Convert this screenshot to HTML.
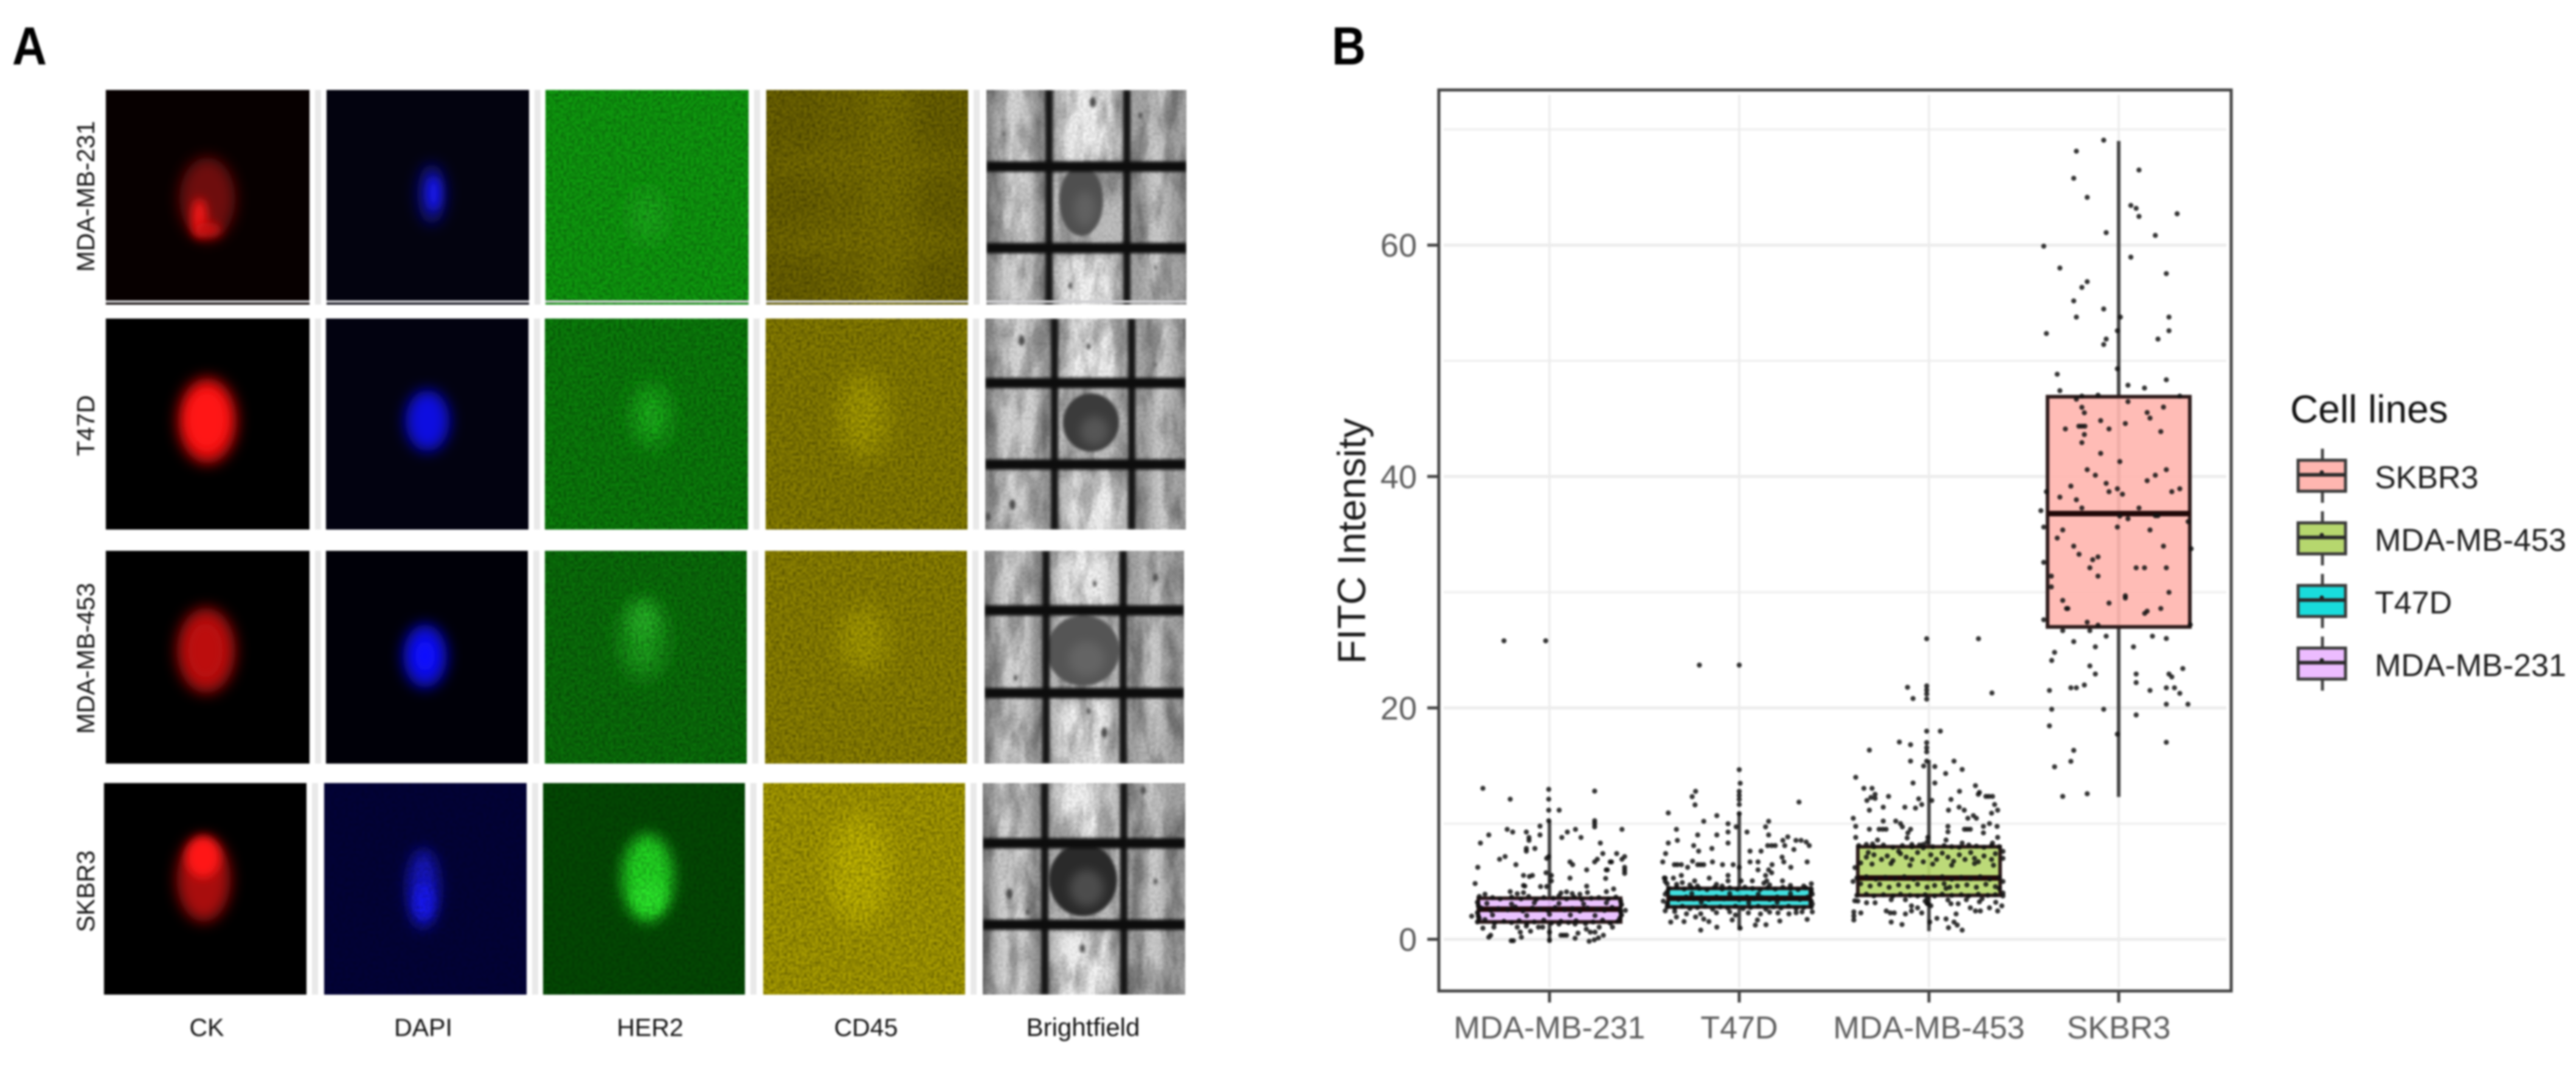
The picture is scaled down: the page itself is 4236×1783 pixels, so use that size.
<!DOCTYPE html>
<html lang="en">
<head>
<meta charset="utf-8">
<title>Cell line immunofluorescence and FITC intensity</title>
<style>
html,body{margin:0;padding:0;background:#fff;}
body{width:4236px;height:1783px;overflow:hidden;}
svg{display:block;position:absolute;left:0;top:0;}
text{font-family:"Liberation Sans",sans-serif;}
#soft{filter:blur(1.5px);}
</style>
</head>
<body>
<svg id="root" xmlns="http://www.w3.org/2000/svg" width="4236" height="1783" viewBox="0 0 4236 1783">
<defs id="defs">
<filter id="b2" x="-100%" y="-100%" width="300%" height="300%"><feGaussianBlur stdDeviation="2"/></filter>
<filter id="b4" x="-100%" y="-100%" width="300%" height="300%"><feGaussianBlur stdDeviation="4"/></filter>
<filter id="b8" x="-100%" y="-100%" width="300%" height="300%"><feGaussianBlur stdDeviation="8"/></filter>
<filter id="b12" x="-100%" y="-100%" width="300%" height="300%"><feGaussianBlur stdDeviation="12"/></filter>
<filter id="b18" x="-100%" y="-100%" width="300%" height="300%"><feGaussianBlur stdDeviation="18"/></filter>
<filter id="noise" x="0" y="0" width="100%" height="100%"><feTurbulence type="fractalNoise" baseFrequency="0.22" numOctaves="2" seed="4"/><feColorMatrix type="matrix" values="0 0 0 0 0  0 0 0 0 0  0 0 0 0 0  1.6 0 0 0 -0.55"/><feGaussianBlur stdDeviation="0.8"/></filter>
<filter id="mottle" x="0" y="0" width="100%" height="100%"><feTurbulence type="fractalNoise" baseFrequency="0.035 0.012" numOctaves="3" seed="9"/><feColorMatrix type="matrix" values="0 0 0 0 0  0 0 0 0 0  0 0 0 0 0  3 0 0 0 -1.2"/></filter>
</defs>
<rect x="0" y="0" width="4236" height="1783" fill="#ffffff"/>
<g id="soft">
<text x="20" y="106" font-size="88" font-weight="700" fill="#000" textLength="57" lengthAdjust="spacingAndGlyphs">A</text>
<text x="2190" y="106" font-size="88" font-weight="700" fill="#000" textLength="56" lengthAdjust="spacingAndGlyphs">B</text>
<g id="panelA"></g>
<text x="144" y="323" transform="rotate(-90 144 323)" text-anchor="middle" font-size="41" fill="#111" dominant-baseline="middle">MDA-MB-231</text>
<text x="144" y="700" transform="rotate(-90 144 700)" text-anchor="middle" font-size="41" fill="#111" dominant-baseline="middle">T47D</text>
<text x="144" y="1083" transform="rotate(-90 144 1083)" text-anchor="middle" font-size="41" fill="#111" dominant-baseline="middle">MDA-MB-453</text>
<text x="144" y="1466" transform="rotate(-90 144 1466)" text-anchor="middle" font-size="41" fill="#111" dominant-baseline="middle">SKBR3</text>
<text x="340" y="1704" text-anchor="middle" font-size="41" fill="#111">CK</text>
<text x="696" y="1704" text-anchor="middle" font-size="41" fill="#111">DAPI</text>
<text x="1069" y="1704" text-anchor="middle" font-size="41" fill="#111">HER2</text>
<text x="1424" y="1704" text-anchor="middle" font-size="41" fill="#111">CD45</text>
<text x="1781" y="1704" text-anchor="middle" font-size="42" fill="#111">Brightfield</text>
<g id="chart"></g>
<text x="2245" y="890" transform="rotate(-90 2245 890)" text-anchor="middle" font-size="65" fill="#1a1a1a">FITC Intensity</text>
<g id="legend">
<text x="3766" y="695" font-size="64" fill="#111">Cell lines</text>
</g>
</g>
</svg>
<script>
/* ---------- chart data ---------- */
const categories = ['MDA-MB-231', 'T47D', 'MDA-MB-453', 'SKBR3'];
const whiskerLow = [-0.3, 0.8, 0.7, 12.3];
const quartile1 = [1.5, 2.8, 3.8, 27.0];
const medians = [2.6, 3.55, 5.3, 36.8];
const quartile3 = [3.55, 4.4, 8.0, 46.9];
const whiskerHigh = [10.3, 11.0, 15.5, 69.0];
const yTickValues = [0, 20, 40, 60];
const yMinorValues = [10, 30, 50, 70];
const legendOrder = ['SKBR3', 'MDA-MB-453', 'T47D', 'MDA-MB-231'];

/* each point: [FITC value, horizontal jitter in category widths] */
const pointsMDA231 = [
[25.8,-.24],[25.8,-.02],[13.05,-.351],[12.96,-.004],[12.81,.238],[12.11,-.207],[12.11,-.004],[11.16,-.004],[11.16,.051],[10.25,-.004],[10.25,.238],[10,.238],[9.72,.238],[9.78,-.05],[9.5,-.223],[9.27,-.194],[9.5,.382],[9.5,.137],[9.27,.094],[9.27,-.122],[9.02,-.32],[9.02,-.05],[8.8,-.108],[8.55,-.108],[8.8,.065],[8.8,.166],[8.32,-.364],[8.32,.268],[7.85,-.122],[7.62,-.122],[7.85,-.077],[7.41,.281],[7.41,.354],[7.15,-.234],[6.92,-.263],[7.15,.396],[6.92,.382],[7.15,-.004],[7,-.015],[6.92,.252],[6.69,.238],[6.69,.108],[6.45,.122],[6.69,.327],[6.69,.32],[6.45,-.177],[6.22,-.378],[6.22,.396],[5.96,.396],[5.7,.396],[6,.196],[6,.299],[6,.305],[5.52,-.137],[5.43,-.106],[5.52,-.09],[5.75,-.018],[5.52,.01],[5.29,.108],[5.26,.296],[4.82,-.392],[4.65,-.137],[4.6,-.13],[5.05,.01],[4.59,.196],[4.35,.338],[4.12,.3],[4.56,-.047],[4.56,-.015],[4.12,-.207],[3.94,-.17],[4.03,-.137],[4,.06],[4.1,.09],[3.95,.12],[3.9,.16],[4.05,.2],
[3.7,-.37],[3.9,-.34],[3.6,-.3],[3.5,-.26],[3.65,-.2],[3.5,-.15],[3.7,-.11],[3.45,-.07],[3.6,-.03],[3.55,.02],[3.75,.05],[3.5,.09],[3.65,.13],[3.45,.17],[3.55,.22],[3.6,.26],[3.5,.31],[3.65,.35],
[2.7,-.36],[2.5,-.31],[2.65,-.27],[2.55,-.22],[2.8,-.18],[2.45,-.14],[2.7,-.09],[2.6,-.05],[2.5,-.01],[2.75,.03],[2.55,.08],[2.65,.12],[2.45,.16],[2.7,.2],[2.6,.25],[2.5,.29],[2.75,.33],[2.6,.37],
[1.5,-.38],[1.7,-.34],[1.4,-.29],[1.55,-.24],[1.45,-.2],[1.6,-.16],[1.35,-.12],[1.5,-.08],[1.65,-.03],[1.4,.01],[1.55,.06],[1.45,.1],[1.6,.14],[1.35,.19],[1.5,.23],[1.65,.28],[1.4,.32],[1.55,.36],
[3.2,-.38],[2.9,-.375],[2.3,-.38],[2,-.375],[1.8,-.37],[3.3,.375],[3,.38],[2.4,.375],[2.1,.38],[1.8,.37],[2.5,.4],[2,-.41],
[3.1,-.33],[3.05,-.2],[3.15,-.08],[3.1,.05],[3.05,.18],[3.15,.3],[2.1,-.3],[2.05,-.12],[2.15,0],[2.1,.11],[2.05,.24],
[.96,-.351],[1.05,-.293],[.18,-.32],[.35,-.31],[-.12,-.202],[-.12,-.19],[.62,-.154],[.18,-.148],[1.14,-.122],[.7,-.1],[1.05,-.17],[1.05,-.058],[1.05,-.036],[.62,0],[-.08,0],[.35,.06],[.35,.075],[.35,.09],[.53,.15],[.09,.135],[.88,.194],[.62,.215],[.62,.24],[1.05,.262],[-.17,.209],[-.05,.236],[.12,.258],[.35,.284],[1.05,.332],[1.32,.05],[1.32,.135]
];
const pointsT47D = [
[23.7,-.21],[23.7,0],[14.66,0],[13.49,.005],[12.79,0],[12.44,0],[12.09,0],[11.65,0],[10.86,0],[12.79,-.23],[12.33,-.248],[11.62,-.233],[11.86,.315],[10.92,-.374],[10.69,-.118],[10.2,-.187],[10.2,.155],[9.72,.139],[9.99,-.059],[9.72,-.016],[9.5,-.331],[9.27,-.059],[9.27,.041],[9.02,-.219],[9.02,-.118],[9.02,.155],[8.55,-.326],[8.32,-.374],[8.32,-.059],[8.85,.256],[8.55,.23],[8.1,.24],[8.55,.299],[8.55,.326],[8.41,.353],[8.1,.369],[8.1,-.24],[7.62,-.214],[7.85,-.144],[7.62,.057],[7.62,.115],[8.1,.15],[8.1,.171],[8.1,.19],[7.76,.288],[7.41,-.388],[6.69,-.403],[6.75,-.246],[6.69,-.141],[7.1,.226],[6.69,.235],[6.69,.057],[6.69,.099],[6.69,.358],[6.45,-.342],[6.45,-.326],[6.45,-.305],[6.22,-.272],[6.45,-.219],[6.45,-.203],[6.45,-.187],[6.45,-.088],[6.45,-.032],[6.22,0],[6.45,.173],[6.22,.272],[6,.099],[6,.155],[5.75,.171],[5.52,-.305],[5.29,-.347],[5.29,-.39],[5.29,-.158],[5.52,-.059],[5.05,-.059],[5.52,.139],[5.05,.228],[5.05,.069],[5.05,-.235],[5.05,.145],[5.05,.01],[5.3,-.395],[5,-.39],[4.8,-.38],[4.75,-.33],[4.9,-.3],[4.7,-.26],[4.6,-.22],[4.75,-.12],[4.6,-.09],[4.7,.16],[4.85,.13],[4.65,.27],[4.8,.38],[4.6,.34],
[4.4,-.37],[4.5,-.33],[4.35,-.29],[4.45,-.25],[4.4,-.21],[4.3,-.17],[4.5,-.13],[4.35,-.09],[4.45,-.05],[4.35,-.01],[4.5,.03],[4.4,.07],[4.3,.11],[4.45,.15],[4.35,.19],[4.5,.23],[4.4,.27],[4.3,.31],[4.45,.35],[4.35,.38],
[3.6,-.36],[3.45,-.32],[3.65,-.28],[3.5,-.24],[3.6,-.2],[3.45,-.16],[3.65,-.12],[3.5,-.08],[3.6,-.04],[3.45,0],[3.65,.04],[3.5,.08],[3.6,.12],[3.45,.16],[3.65,.2],[3.5,.24],[3.6,.28],[3.45,.32],[3.65,.36],
[2.8,-.38],[2.7,-.34],[2.85,-.3],[2.65,-.26],[2.75,-.22],[2.85,-.18],[2.6,-.14],[2.8,-.1],[2.7,-.06],[2.85,-.02],[2.65,.02],[2.75,.06],[2.85,.1],[2.6,.14],[2.8,.18],[2.7,.22],[2.85,.26],[2.65,.3],[2.75,.34],[2.8,.38],
[4.1,-.38],[3.9,-.39],[3.3,-.4],[3.1,-.38],[4.1,.38],[3.9,.385],[3.3,.38],[3.05,.385],[3.95,-.25],[3.95,-.05],[3.9,.1],[3.95,.27],[3.2,-.2],[3.15,.05],[3.2,.2],
[2.46,-.39],[1.93,-.331],[1.49,-.361],[1.53,-.291],[2.2,-.278],[1.93,-.23],[2.2,-.203],[1.75,-.187],[1.53,-.16],[.79,-.203],[1.05,-.118],[2.37,-.05],[1.67,-.037],[2.1,-.02],[.97,.005],[2.28,.048],[1.67,.096],[1.23,.085],[2.19,.112],[1.26,.141],[1.58,.214],[2.28,.204],[2.2,.262],[1.72,.358],[2.37,.331],[2.37,.385],[2.3,-.12],[2.4,-.34],[2.3,.3],[2.35,.16]
];
const pointsMDA453 = [
[25.98,-.012],[25.98,.261],[21.78,-.113],[21.9,-.012],[21.55,-.012],[21.2,-.012],[20.76,-.012],[20.81,-.084],[21.29,.332],[17.99,-.012],[17.99,.06],[17.05,-.156],[17,-.012],[16.56,-.012],[16.2,-.012],[16.82,-.097],[16.35,-.314],[15.4,-.097],[15.4,-.012],[15.4,.132],[14.98,-.028],[14.93,.031],[14.68,.175],[14.33,.088],[14,-.386],[13.51,-.084],[13.51,.031],[13.28,.245],[13.05,-.343],[13.05,-.3],[12.79,.161],[12.7,.266],[12.53,.26],[12.53,-.284],[12.26,-.306],[12,-.327],[12.18,-.284],[12.35,-.213],[12.35,.3],[12.35,.316],[12.35,.335],[12.14,-.054],[12,.015],[12.09,.116],[11.65,-.038],[11.34,-.071],[11.42,-.241],[11.42,-.127],[11.16,-.314],[11.16,.103],[11.42,.159],[11.16,.186],[11.65,.346],[11.16,.362],[10.9,.33],[10.69,.234],[10.46,.205],[10.46,.25],[10.46,-.399],[10.22,-.241],[10.22,-.175],[10,-.15],[9.72,-.14],[9.76,-.386],[9.51,-.314],[9.51,-.263],[9.51,-.244],[9.51,-.226],[9.51,-.097],[9.2,-.111],[8.76,-.115],[9.76,.1],[9.29,.1],[9.51,.202],[9.51,.187],[9.51,.218],[10,.319],[9.76,.287],[9.2,.287],[9.76,.359],[8.81,-.386],[8.81,-.006],[8.81,.362],[8.58,.09],[8.58,-.271],[8.24,-.297],[8.32,.175],[8.32,.335],[8.4,-.01],[8.2,-.09],[8.2,-.03],
[8.1,-.37],[8.2,-.33],[8,-.29],[8.15,-.24],[7.95,-.19],[8.1,-.14],[8,-.09],[8.15,-.05],[8,.02],[8.1,.08],[8,.12],[7.95,.16],[8.15,.21],[8.05,.25],[7.95,.29],[8.1,.33],[8,.37],
[7.5,-.32],[7.3,-.29],[7.1,-.33],[6.9,-.25],[7.2,-.22],[6.8,-.19],[7.4,-.15],[7.1,-.12],[6.9,-.09],[7.5,-.06],[6.7,-.03],[7.3,.01],[6.9,.04],[7.45,.07],[7.1,.1],[6.75,.13],[7.3,.16],[6.9,.19],[7.5,.22],[6.7,.26],[7.2,.29],[6.9,.33],[7.4,.35],[6.6,-.36],[6.5,-.3],[6.55,-.2],[6.4,-.1],[6.5,.02],[6.4,.12],[6.55,.24],[6.4,.34],[7.9,-.03],[7.6,-.16],[7,.24],
[5.3,-.38],[5.4,-.33],[5.2,-.28],[5.35,-.23],[5.25,-.18],[5.4,-.13],[5.2,-.08],[5.35,-.03],[5.25,.02],[5.4,.07],[5.2,.12],[5.35,.17],[5.25,.22],[5.4,.27],[5.2,.32],[5.35,.37],
[4.8,-.36],[4.6,-.31],[4.75,-.26],[4.5,-.21],[4.7,-.16],[4.55,-.11],[4.75,-.06],[4.5,-.01],[4.65,.03],[4.8,.08],[4.5,.11],[4.4,.09],[4.6,.15],[4.7,.2],[4.5,.25],[4.75,.3],[4.55,.35],[4.4,.37],
[3.8,-.38],[3.9,-.33],[3.75,-.29],[3.85,-.24],[3.75,-.19],[3.9,-.15],[3.8,-.1],[3.75,-.06],[3.85,-.02],[3.75,.03],[3.9,.07],[3.8,.12],[3.85,.17],[3.75,.21],[3.9,.26],[3.8,.31],[3.85,.35],[3.75,.39],[4,.39],[5,-.4],[5,.39],[6.2,-.39],[7,.39],[7.6,.39],
[3.33,-.391],[3.3,-.375],[3.16,-.329],[3.16,-.284],[3.42,-.199],[3.42,-.124],[2.89,-.092],[2.72,-.06],[2.28,-.038],[2.45,-.092],[3.07,-.006],[3.07,.116],[3.07,.154],[3.42,.197],[3.24,.266],[3.2,.352],[2.89,.384],[2.45,.362],[2.72,.319],[2.37,-.396],[2.02,-.396],[1.67,-.396],[2.28,-.359],[2.45,-.225],[2.28,-.204],[2.28,-.183],[2.19,-.124],[1.49,-.199],[1.28,-.142],[1.49,.004],[1.81,.042],[1.76,.09],[1.49,.132],[1,.103],[1.23,.149],[.79,.175],[2.19,.143],[2.72,.218],[2.45,.245],[2.45,.271],[3.5,-.01],[3.3,-.02],[3.1,-.01],[2.9,.01],[3.5,.28],[3.4,.1]
];
const pointsSKBR3 = [
[69.07,-.079],[68.12,-.223],[66.49,.107],[65.78,-.237],[64.13,-.166],[63.43,.064],[63.18,.092],[62.48,.107],[62.71,.308],[61.08,-.066],[60.84,.193],[59.91,-.395],[58.96,.064],[58.02,-.31],[57.54,.251],[56.84,-.166],[56.35,-.194],[55.18,-.237],[54.48,-.079],[53.78,-.223],[53.78,.009],[53.78,.265],[52.6,-.007],[52.6,.265],[52.36,-.381],[51.88,-.066],[51.88,.207],[51.41,-.079],
[48.84,-.324],[49.31,-.007],[48.36,.251],[47.89,.049],[47.65,.136],[47.42,-.31],[46.95,-.194],[47.03,-.109],[46.68,-.223],[46.95,.322],[46.47,.049],[45.98,-.194],[45.51,-.181],[46,.236],[45.53,.15],[45.05,.165],[44.83,-.095],[44.58,.035],[44.11,-.281],[44.35,-.21],[44.35,-.194],[44.35,-.178],[44.11,-.051],[43.63,-.181],[43.88,.222],[42.93,-.194],[42,-.095],[41.29,.006],[40.59,-.166],[40.59,.251],[40.11,-.123],[40.11,.193],[39.64,.15],[39.41,-.066],[39.17,-.252],[38.94,-.007],[38.94,.322],[38.69,-.051],[38.47,.02],[38.69,-.381],[38.69,.28],[38.22,-.31],[37.99,-.223],[37.28,-.194],[37.28,.107],[37.05,-.41],[36.58,.006],[36.35,.049],[36.61,.193],[36.61,.207],[36.1,.366],[35.63,-.395],[35.63,-.007],[35.38,.165],[35.38,-.295],[34.68,-.324],[33.98,-.237],[33.98,.236],[33.76,.382],[33.28,-.209],[33.05,-.109],[32.81,-.137],[32.58,-.395],[32.11,-.152],[32.11,.092],[32.11,.136],[32.11,.251],[31.39,-.355],[31.39,-.109],[30.46,-.355],[29.99,.265],[29.69,.035],
[29.29,-.295],[29.5,.035],[28.59,-.275],[28.59,-.268],[29.06,-.051],[28.59,.222],[28.36,.15],[28.17,.137],[27.62,-.395],[27.41,-.166],[27.15,-.109],[27.19,.377],[26.68,-.295],[26.68,-.152],[26.2,-.066],[26.2,.178],[26,.251],[25.73,-.237],[25.28,-.123],[25.28,.078],[24.8,-.338],[24.1,-.353],[23.63,-.152],[23.4,.338],[22.93,-.123],[22.93,.092],[22.93,.265],[22.68,.28],[21.98,-.181],[22.19,.092],[21.74,-.252],[21.74,-.223],[21.51,-.365],[21.51,.165],[21.74,.251],[21.74,.294],[21.26,.322],[20.32,.251],[20.32,.365],[19.88,-.353],[19.88,-.079],[19.39,.092],[18.45,-.365],[17.73,-.007],[17.03,.251],[16.33,-.237],[15.38,-.252],[14.91,-.338],[12.58,-.166],[12.35,-.295]
];
const seriesPoints = [pointsMDA231, pointsT47D, pointsMDA453, pointsSKBR3];

/* ---------- chart scale ---------- */
const PLOT = {left:2366, right:3669, top:148, bottom:1630};
function yScale(v){ return 1545 - 19.03 * v; }
function xScale(pos){ return 2548 + 312 * pos; }
const BOX_WIDTH = 0.75;
const seriesFill = ['#e8bdff', '#2fdcdc', '#b6d76e', '#ffb6b0'];
const legendFill = {'SKBR3':'#ffb6b0', 'MDA-MB-453':'#b6d76e', 'T47D':'#19dcdc', 'MDA-MB-231':'#ecbcff'};

const NS = 'http://www.w3.org/2000/svg';
function mk(tag, attrs, parent){
  const el = document.createElementNS(NS, tag);
  for (const k in attrs) el.setAttribute(k, attrs[k]);
  if (parent) parent.appendChild(el);
  return el;
}

/* ---------- draw chart ---------- */
const chart = document.getElementById('chart');
const panelBg = mk('rect', {x:PLOT.left, y:PLOT.top, width:PLOT.right-PLOT.left, height:PLOT.bottom-PLOT.top, fill:'#fff'}, chart);



yMinorValues.forEach(function(v){
  const g = mk('line', {x1:PLOT.left+8, x2:PLOT.right-8, y1:yScale(v), y2:yScale(v), stroke:'#efefef', 'stroke-width':3.5}, chart);
  
  
});
yTickValues.forEach(function(v){
  const g = mk('line', {x1:PLOT.left+8, x2:PLOT.right-8, y1:yScale(v), y2:yScale(v), stroke:'#ececec', 'stroke-width':5}, chart);
  
  
  const t = mk('line', {x1:PLOT.left-19, x2:PLOT.left, y1:yScale(v), y2:yScale(v), stroke:'#444', 'stroke-width':5}, chart);
  
  
  const l = mk('text', {x:2330, y:yScale(v)+19, 'text-anchor':'end', 'font-size':54, fill:'#5c5c5c'}, chart);
  
  
  l.textContent = v;
});
categories.forEach(function(c, i){
  const g = mk('line', {x1:xScale(i), x2:xScale(i), y1:PLOT.top+8, y2:PLOT.bottom-6, stroke:'#ececec', 'stroke-width':3.5}, chart);
  
  
  const t = mk('line', {x1:xScale(i), x2:xScale(i), y1:PLOT.bottom, y2:PLOT.bottom+19, stroke:'#444', 'stroke-width':5}, chart);
  
  
  const l = mk('text', {x:xScale(i), y:1708, 'text-anchor':'middle', 'font-size':52, fill:'#5c5c5c'}, chart);
  
  
  l.textContent = c;
});
categories.forEach(function(c, i){
  const g = mk('g', {}, chart);
  
  
  const wh = mk('line', {x1:xScale(i), x2:xScale(i), y1:yScale(whiskerHigh[i]), y2:yScale(whiskerLow[i]), stroke:'#444', 'stroke-width':6}, g);
  
  
  const bx = mk('rect', {x:xScale(i-BOX_WIDTH/2), y:yScale(quartile3[i]), width:xScale(BOX_WIDTH)-xScale(0), height:yScale(quartile1[i])-yScale(quartile3[i]), fill:seriesFill[i], 'fill-opacity':0.92, stroke:'#2c1a1a', 'stroke-width':6}, g);
  
  
  const md = mk('line', {x1:xScale(i-BOX_WIDTH/2), x2:xScale(i+BOX_WIDTH/2), y1:yScale(medians[i]), y2:yScale(medians[i]), stroke:'#200808', 'stroke-width':9}, g);
  
  
  seriesPoints[i].forEach(function(p){
    const d = mk('circle', {cx:xScale(i+p[1]), cy:yScale(p[0]), r:4.2, fill:'#111', 'fill-opacity':0.85}, g);
    
    
  });
});
const frame = mk('rect', {x:PLOT.left, y:PLOT.top, width:PLOT.right-PLOT.left, height:PLOT.bottom-PLOT.top, fill:'none', stroke:'#444', 'stroke-width':5}, chart);



/* ---------- legend ---------- */
const legend = document.getElementById('legend');
legendOrder.forEach(function(c, i){
  const top = 757 + i * 103;
  const g = mk('g', {}, legend);
  
  
  mk('line', {x1:3819, x2:3819, y1:top-19, y2:top+70, stroke:'#444', 'stroke-width':5}, g);
  mk('rect', {x:3779, y:top, width:78, height:51, fill:legendFill[c], stroke:'#3a3a3a', 'stroke-width':5}, g);
  mk('line', {x1:3779, x2:3857, y1:top+24, y2:top+24, stroke:'#2a2a2a', 'stroke-width':6}, g);
  mk('circle', {cx:3818, cy:top+20, r:3.5, fill:'#222'}, g);
  const l = mk('text', {x:3905, y:top+46, 'font-size':52, fill:'#1c1c1c'}, g);
  
  
  l.textContent = c;
});

/* ---------- panel A micrographs ---------- */
const panelA = document.getElementById('panelA');
const defs = document.getElementById('defs');
const rowNames = ['mda-mb-231', 't47d', 'mda-mb-453', 'skbr3'];
const channelNames = ['ck', 'dapi', 'her2', 'cd45', 'brightfield'];
const rowTop = [148, 524, 906, 1288];
const rowHeight = [353, 347, 350, 348];
const colLeft = [[174,537,897,1260,1622],[174,536,896,1259,1620],[174,536,896,1258,1619],[171,533,893,1255,1616]];
const colWidth = [[335,333,334,332,329],[335,333,334,332,330],[335,332,332,332,328],[333,333,332,332,333]];
/* [background, noise opacity, blobs: cx, cy, rx, ry, colour, blur-id] */
const micro = [
 [['#070000',0,[[341,327,46,68,'#6e0707','b12'],[328,358,13,32,'#f01212','b8'],[342,378,22,12,'#c81010','b8']]],
  ['#03030f',0,[[710,319,24,50,'#0e0e80','b12'],[713,318,11,28,'#1818f0','b8']]],
  ['#0f9d0f',.5,[[1065,356,26,44,'#1eb01e','b18']]],
  ['#706600',.55,[[1455,325,50,300,'#7f7400','b18'],[1375,325,18,300,'#7a6f00','b18'],[1425,268,170,20,'#807500','b18'],[1425,396,170,22,'#807500','b18']]]],
 [['#000000',0,[[341,692,48,70,'#e81010','b12'],[340,690,32,48,'#ff1414','b8']]],
  ['#020210',0,[[703,692,36,50,'#0a0ae0','b12']]],
  ['#0b800b',.55,[[1071,683,28,50,'#1abc1a','b18']]],
  ['#8b8100',.55,[[1420,683,40,70,'#aaa000','b18']]]],
 [['#000000',0,[[339,1070,48,70,'#b00c0c','b12'],[338,1070,28,44,'#bc0e0e','b8']]],
  ['#000008',0,[[699,1079,36,52,'#0808e0','b12'],[699,1079,16,24,'#0c0cff','b8']]],
  ['#0a720a',.55,[[1058,1050,36,66,'#1ea81e','b18'],[1058,1020,22,28,'#26b826','b12']]],
  ['#918600',.55,[[1420,1053,38,56,'#aca100','b18']]]],
 [['#000000',0,[[335,1446,44,70,'#a80e0e','b12'],[334,1410,28,34,'#ff1212','b8']]],
  ['#030338',.3,[[696,1462,26,66,'#1414c0','b12'],[697,1482,16,30,'#1818f0','b8']]],
  ['#044a04',.4,[[1065,1444,42,72,'#20d820','b12'],[1068,1475,26,28,'#2ce82c','b8']]],
  ['#ab9f00',.55,[[1413,1430,50,90,'#c6ba00','b18']]]]
];
/* brightfield: vertical bars, horizontal bars, cell cx, cy, rx, ry, cell fill */
const brightV = [[1725,1853],[1734,1861],[1720,1847],[1718,1848]];
const brightH = [[274,408],[630,764],[1004,1140],[1387,1521]];
const brightCell = [[1778,330,36,58,'#505050'],[1794,695,46,48,'#3a3a3a'],[1781,1070,60,58,'#545454'],[1781,1447,56,60,'#2c2c2c']];
/* small debris: cx, cy, r */
const brightSpecks = [[[1797,168,5],[1875,190,3],[1650,220,2],[1900,440,2],[1760,470,3]],[[1680,560,5],[1790,570,3],[1665,830,5],[1625,850,4],[1900,600,2]],[[1800,960,3],[1900,950,4],[1816,1205,5],[1790,1170,3],[1670,1115,3]],[[1660,1470,5],[1690,1500,3],[1900,1450,3],[1780,1560,4],[1880,1300,4]]];

rowNames.forEach(function(rowName, r){
  const y = rowTop[r], h = rowHeight[r];
  const rowG = mk('g', {}, panelA);
  
  
  for (let c = 0; c < 4; c++){
    const strip = mk('rect', {x:colLeft[r][c]+colWidth[r][c]+9, y:y, width:10, height:h, fill:'#e9e9e9'}, rowG);
    
    
  }
  channelNames.forEach(function(ch, c){
    const x = colLeft[r][c], w = colWidth[r][c];
    const id = 'clip' + r + c;
    const cp = mk('clipPath', {id:id}, defs);
    mk('rect', {x:x, y:y, width:w, height:h}, cp);
    const g = mk('g', {'clip-path':'url(#' + id + ')'}, rowG);
    
    
    if (c < 4){
      const spec = micro[r][c];
      mk('rect', {x:x, y:y, width:w, height:h, fill:spec[0]}, g);
      spec[2].forEach(function(b){
        mk('ellipse', {cx:b[0], cy:b[1], rx:b[2], ry:b[3], fill:b[4], filter:'url(#' + b[5] + ')'}, g);
      });
      if (spec[1] > 0) mk('rect', {x:x, y:y, width:w, height:h, fill:'#000', filter:'url(#noise)', opacity:spec[1]}, g);
    } else {
      const v = brightV[r], hb = brightH[r], cell = brightCell[r];
      mk('rect', {x:x, y:y, width:w, height:h, fill:'#b4b4b4'}, g);
      mk('rect', {x:x-20, y:y-20, width:34, height:h+40, fill:'#8c8c8c', filter:'url(#b8)'}, g);
      mk('rect', {x:x+24, y:y-20, width:v[0]-x-46, height:h+40, fill:'#d8d8d8', filter:'url(#b8)'}, g);
      mk('rect', {x:v[0]-22, y:y-20, width:20, height:h+40, fill:'#909090', filter:'url(#b8)'}, g);
      mk('rect', {x:v[0]+4, y:y-20, width:v[1]-v[0]-8, height:h+40, fill:'#c2c2c2', filter:'url(#b8)'}, g);
      mk('rect', {x:v[0]+24, y:y-20, width:v[1]-v[0]-48, height:hb[0]-y+16, fill:'#f4f4f4', filter:'url(#b8)'}, g);
      mk('rect', {x:v[0]+24, y:hb[1]+14, width:v[1]-v[0]-48, height:y+h-hb[1]+10, fill:'#f6f6f6', filter:'url(#b8)'}, g);
      mk('rect', {x:v[1]+4, y:y-20, width:x+w-v[1]+20, height:h+40, fill:'#a6a6a6', filter:'url(#b8)'}, g);
      mk('rect', {x:v[1]+34, y:y-20, width:32, height:h+40, fill:'#d0d0d0', filter:'url(#b8)'}, g);
      mk('rect', {x:x, y:y, width:w, height:h, fill:'#000', filter:'url(#mottle)', opacity:.28}, g);
      mk('rect', {x:x, y:y, width:w, height:h, fill:'#000', filter:'url(#noise)', opacity:.2}, g);
      brightSpecks[r].forEach(function(s){
        mk('ellipse', {cx:s[0], cy:s[1], rx:s[2], ry:s[2]*1.7, fill:'#4a4a4a', filter:'url(#b2)'}, g);
      });
      mk('ellipse', {cx:cell[0], cy:cell[1], rx:cell[2], ry:cell[3], fill:cell[4], filter:'url(#b2)'}, g);
      mk('ellipse', {cx:cell[0]+6, cy:cell[1]+14, rx:cell[2]*.5, ry:cell[3]*.5, fill:'#777', opacity:.45, filter:'url(#b8)'}, g);
      v.forEach(function(px){
        mk('rect', {x:px-6, y:y, width:12, height:h, fill:'#141414', filter:'url(#b2)'}, g);
      });
      hb.forEach(function(py){
        mk('rect', {x:x, y:py-8.5, width:w, height:17, fill:'#111', filter:'url(#b2)'}, g);
      });
    }
    if (r === 0){
      mk('rect', {x:x, y:y+346, width:w, height:4, fill:'#cfcfd2'}, g);
    }
  });
});
</script>
</body>
</html>
